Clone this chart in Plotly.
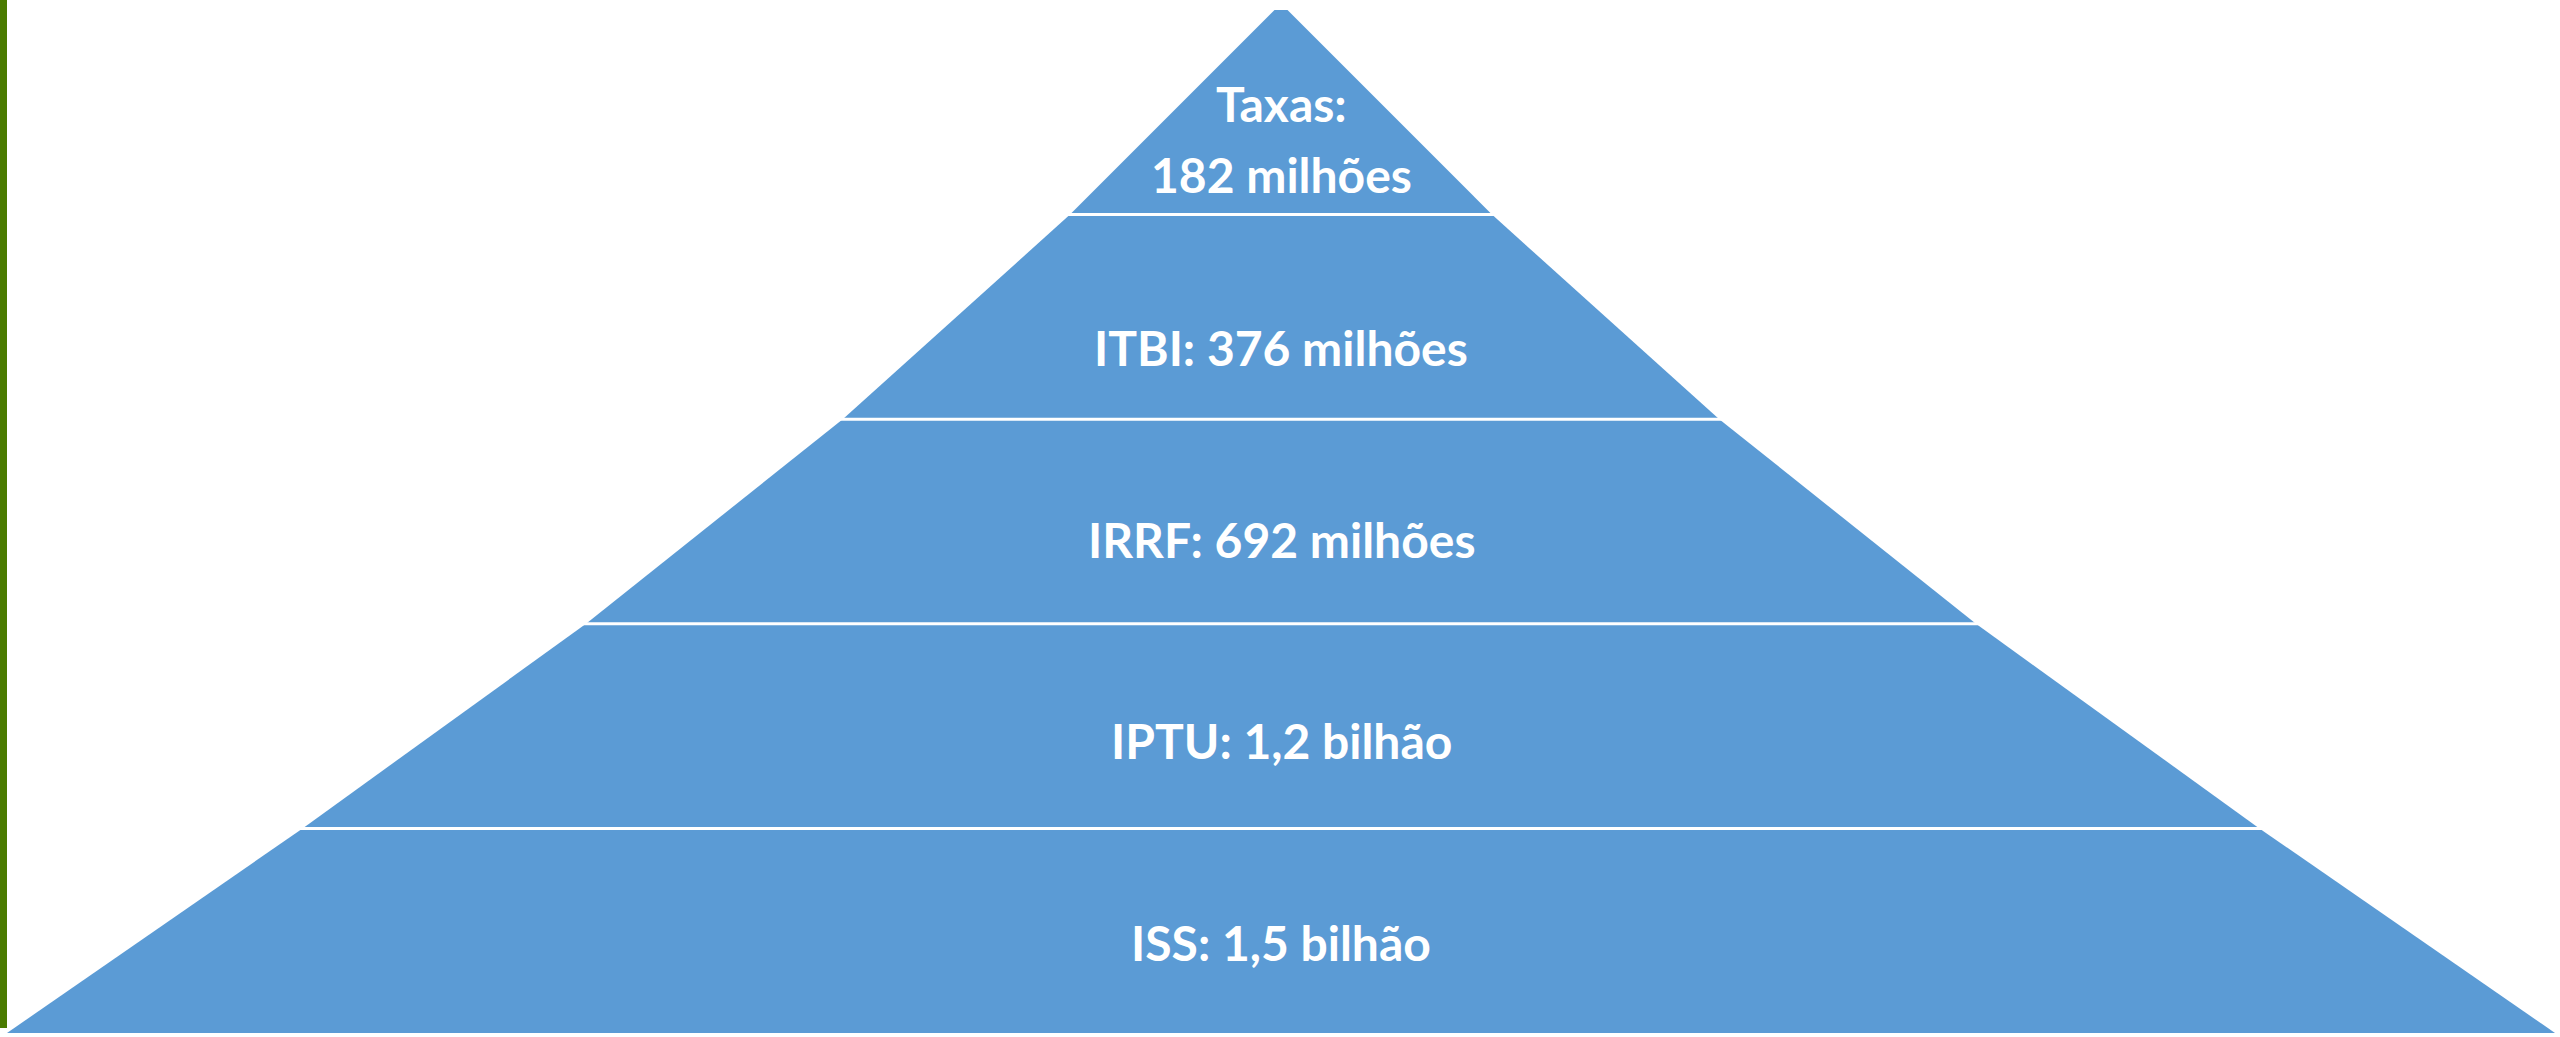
import plotly.graph_objects as go

# ---- data (bottom level first) ----
categories = ["ISS", "IPTU", "IRRF", "ITBI", "Taxas"]
value_labels = ["1,5 bilhão", "1,2 bilhão", "692 milhões", "376 milhões", "182 milhões"]
values_brl = [1.5e9, 1.2e9, 692e6, 376e6, 182e6]

# ---- layout geometry (diagram shape, not data) ----
# half-width of the pyramid at each level boundary, relative to half the base
boundary_half_widths = [1.0, 0.768, 0.5455, 0.344, 0.1656, 0.0051]
# vertical position (in level units) of each label's centre
label_centres = [0.44, 1.43, 2.41, 3.35, 4.38]
# the top level's label is split over two lines: name line, value line
top_line_centres = [4.545, 4.198]

BLUE = "#5B9BD5"
GREEN = "#4A7B00"
W, H = 2560, 1037
LABEL_FONT = dict(family="Lato", size=48, color="white", weight="bold")

fig = go.Figure()

n = len(categories)
for i in range(n):
    w0, w1 = boundary_half_widths[i], boundary_half_widths[i + 1]
    fig.add_trace(go.Scatter(
        x=[-w0, w0, w1, -w1, -w0],
        y=[i, i, i + 1, i + 1, i],
        mode="lines",
        fill="toself",
        fillcolor=BLUE,
        line=dict(width=0, color=BLUE),
        hoveron="fills",
        hoverinfo="text",
        text=f"{categories[i]}: R$ {values_brl[i]:,.0f}",
        name=categories[i],
        showlegend=False,
    ))

# white separators between levels
for i in range(1, n):
    fig.add_shape(type="line", x0=-1.1, x1=1.1, y0=i, y1=i,
                  line=dict(color="white", width=3), layer="above")

# labels
for i in range(n):
    if i == n - 1:
        parts = [f"{categories[i]}:", value_labels[i]]
        for txt, yc in zip(parts, top_line_centres):
            fig.add_annotation(x=0, y=yc, text=txt, showarrow=False, font=LABEL_FONT,
                               xanchor="center", yanchor="middle")
    else:
        fig.add_annotation(x=0, y=label_centres[i],
                           text=f"{categories[i]}: {value_labels[i]}",
                           showarrow=False, font=LABEL_FONT,
                           xanchor="center", yanchor="middle")

# green edge at the left
fig.add_shape(type="rect", xref="paper", yref="paper",
              x0=0, x1=7 / W, y0=9 / H, y1=1,
              fillcolor=GREEN, line=dict(width=0), layer="above")

px_per_unit_y = (1033 - 10) / 5
cx, half_base = 1281, 1274
fig.update_layout(
    width=W, height=H,
    margin=dict(l=0, r=0, t=0, b=0),
    paper_bgcolor="white", plot_bgcolor="white",
    xaxis=dict(range=[-cx / half_base, (W - cx) / half_base], visible=False, fixedrange=True),
    yaxis=dict(range=[-(H - 1033) / px_per_unit_y, 5 + 10 / px_per_unit_y], visible=False, fixedrange=True),
    showlegend=False,
)

fig.write_html("out.html", config={"displayModeBar": False},
               post_script="document.body.style.margin='0';")
